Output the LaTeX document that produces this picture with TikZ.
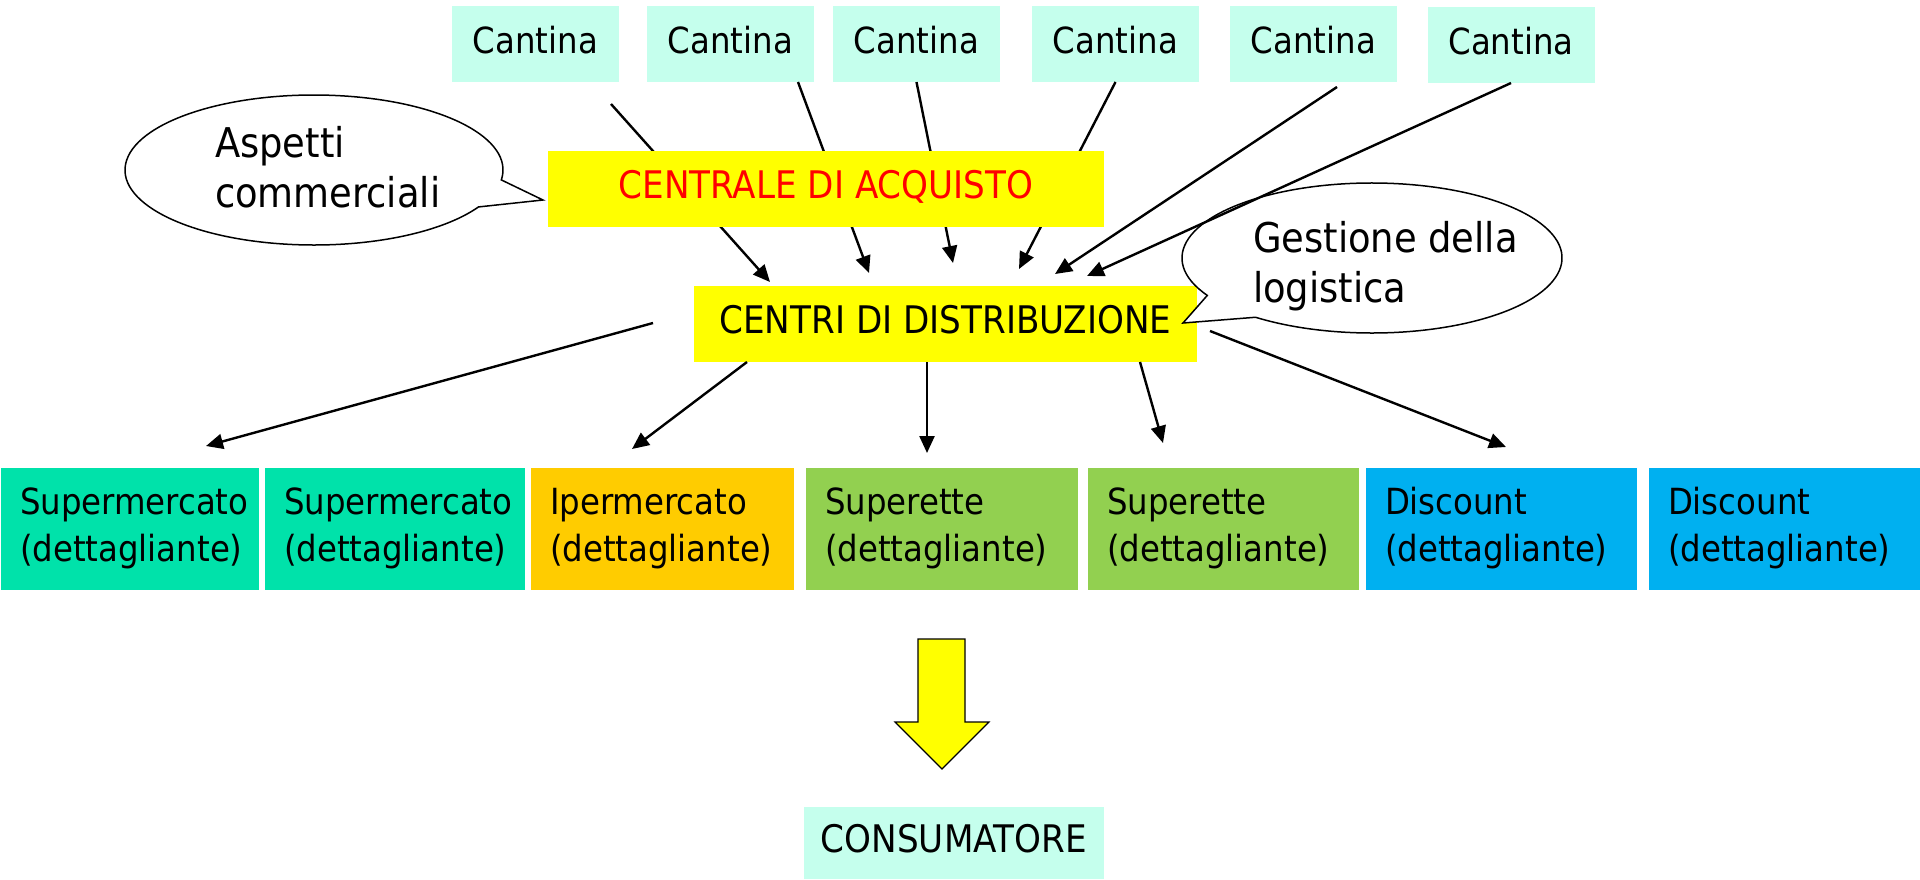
\documentclass[tikz,border=0pt]{standalone}
\usepackage{fontspec}
\setmainfont{DejaVu Sans Condensed}
\usetikzlibrary{arrows.meta,calc}
\definecolor{cantinac}{RGB}{197,255,237}
\definecolor{supc}{RGB}{0,226,170}
\definecolor{ipc}{RGB}{255,204,0}
\definecolor{superc}{RGB}{146,208,80}
\definecolor{discc}{RGB}{0,176,240}
\definecolor{ylw}{RGB}{255,255,0}
\begin{document}
\begin{tikzpicture}[x=0.5pt,y=-0.5pt,
  every node/.style={inner sep=0pt, outer sep=0pt},
  onebox/.style={fill=#1, minimum height=38pt, text height=11pt, text depth=2pt, font=\fontsize{18}{22}\selectfont},
  capsbox/.style={onebox=#1, font=\fontsize{19}{22}\selectfont},
  cantina/.style={onebox=cantinac, minimum width=83.5pt},
  retail/.style n args={3}{fill=#1, minimum width=#2, minimum height=61pt, inner xsep=9.5pt, text width=#3, align=left, text height=12pt, text depth=27pt, font=\fontsize{18}{23.5}\selectfont},
  arr/.style={line width=1.2pt, -{Triangle[length=8.5pt,width=7.5pt]}},
  callout/.style={draw=black, line width=0.75pt, fill=white},
  calltext/.style={anchor=base west, align=left, font=\fontsize{20.5}{25}\selectfont}
]
\useasboundingbox (0,0) rectangle (1920,879);

% Cantine
\node[cantina] (c1) at (535.5,44) {Cantina};
\node[cantina] (c2) at (730.5,44) {Cantina};
\node[cantina] (c3) at (916.5,44) {Cantina};
\node[cantina] (c4) at (1115.5,44) {Cantina};
\node[cantina] (c5) at (1313.5,44) {Cantina};
\node[cantina] (c6) at (1511,45) {Cantina};

% Centri di distribuzione
\node[capsbox=ylw, minimum width=251.5pt] (cd) at (945.5,324) {CENTRI DI DISTRIBUZIONE};

% Dettaglianti
\node[retail={supc}{129pt}{110pt}] (s1) at (130,529) {Supermercato\\(dettagliante)};
\node[retail={supc}{130pt}{111pt}] (s2) at (395,529) {Supermercato\\(dettagliante)};
\node[retail={ipc}{131.5pt}{112.5pt}] (ip) at (662.5,529) {Ipermercato\\(dettagliante)};
\node[retail={superc}{136pt}{117pt}] (su1) at (942,529) {Superette\\(dettagliante)};
\node[retail={superc}{135.5pt}{116.5pt}] (su2) at (1223.5,529) {Superette\\(dettagliante)};
\node[retail={discc}{135.5pt}{116.5pt}] (di1) at (1501.5,529) {Discount\\(dettagliante)};
\node[retail={discc}{135.5pt}{116.5pt}] (di2) at (1784.5,529) {Discount\\(dettagliante)};

% Consumatore
\node[capsbox=cantinac, minimum width=150pt, minimum height=36pt] (cons) at (954,843) {CONSUMATORE};

% big yellow arrow
\draw[fill=ylw, line width=0.6pt, line join=miter] (918,639) -- (965,639) -- (965,722) -- (989,722) -- (942,769) -- (895,722) -- (918,722) -- cycle;

% callouts
\coordinate (gesc) at (1372,258);
\draw[callout] (gesc) ++(150.1:190 and 75) arc[start angle=150.1, end angle=487.8, x radius=190, y radius=75] -- (1183,323) -- cycle;
\node[calltext] (ges) at (1253,302) {Gestione della\\logistica};

\coordinate (aspc) at (314,170);
\draw[callout] (aspc) ++(7.6:189 and 75) arc[start angle=7.6, end angle=-330.5, x radius=189, y radius=75] -- (543,200) -- cycle;
\node[calltext] (asp) at (215,207) {Aspetti\\commerciali};

% arrows from cantine
\draw[arr] ($(c1.south)+(75.5,22)$) -- ($(cd.north)+(-175.5,-4)$);
\draw[arr] ($(c2.south)+(67.5,0)$) -- ($(cd.north)+(-76.5,-13)$);
\draw[arr] ($(c3.south)+(0,0)$) -- ($(cd.north)+(7.5,-23)$);
\draw[arr] ($(c4.south)+(0,0)$) -- ($(cd.north)+(73.5,-17)$);
\draw[arr] ($(c5.south)+(23.5,5)$) -- ($(cd.north)+(109.5,-12)$);
\draw[arr] ($(c6.south)+(0,0)$) -- ($(cd.north)+(141.5,-10)$);

% arrows to retailers
\draw[arr] ($(cd.west)+(-41,-1)$) -- ($(s1.north)+(76,-22)$);
\draw[arr] ($(cd.south)+(-198.5,0)$) -- ($(ip.north)+(-30.5,-19)$);
\draw[arr] ($(cd.south)+(-18.5,0)$) -- ($(su1.north)+(-15,-15)$);
\draw[arr] ($(cd.south)+(194.5,0)$) -- ($(su2.north)+(-60.5,-25)$);
\draw[arr] ($(cd.east)+(13,7)$) -- ($(di1.north)+(4.5,-21)$);

% Centrale di acquisto (over the arrows)
\node[capsbox=ylw, minimum width=278pt, text=red] (ca) at (826,189) {CENTRALE DI ACQUISTO};
\end{tikzpicture}
\end{document}
